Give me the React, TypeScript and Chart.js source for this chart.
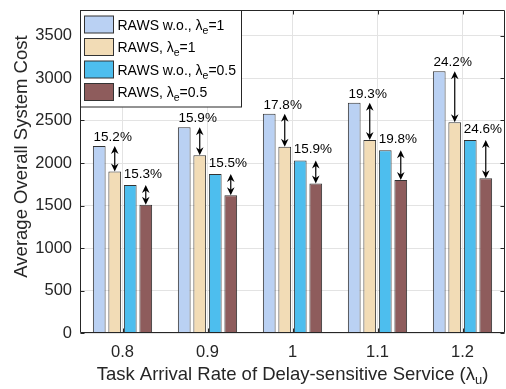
import React, { useEffect, useRef } from "react";
import { Chart, registerables } from "chart.js";

Chart.register(...registerables);

const categories = ["0.8", "0.9", "1", "1.1", "1.2"];
const rawsWoE1 = [2200, 2420, 2580, 2710, 3080];
const rawsE1 = [1900, 2090, 2190, 2270, 2480];
const rawsWoE05 = [1740, 1870, 2030, 2150, 2270];
const rawsE05 = [1510, 1620, 1760, 1800, 1820];
const gainE1 = ["15.2%", "15.9%", "17.8%", "19.3%", "24.2%"];
const gainE05 = ["15.3%", "15.5%", "15.9%", "19.8%", "24.6%"];
const yTicks = [0, 500, 1000, 1500, 2000, 2500, 3000, 3500];

const legendItems = [
  { pre: "RAWS w.o., ", sub: "e", post: "=1" },
  { pre: "RAWS, ", sub: "e", post: "=1" },
  { pre: "RAWS w.o., ", sub: "e", post: "=0.5" },
  { pre: "RAWS, ", sub: "e", post: "=0.5" },
];
const colors = ["#bad1f3", "#f2dcb6", "#4dbeee", "#8e5c5c"];
const FONT = "'Liberation Sans', Arial, Helvetica, sans-serif";
const TXT = "#262626";

function arrowHead(ctx: CanvasRenderingContext2D, x: number, y: number, dir: number) {
  const L = 8, W = 3.8, B = 5.5;
  ctx.beginPath();
  ctx.moveTo(x, y);
  ctx.lineTo(x - W, y - dir * L);
  ctx.lineTo(x, y - dir * B);
  ctx.lineTo(x + W, y - dir * L);
  ctx.closePath();
  ctx.fill();
}

function drawArrow(ctx: CanvasRenderingContext2D, x: number, yTop: number, yBot: number) {
  ctx.strokeStyle = "#000";
  ctx.fillStyle = "#000";
  ctx.lineWidth = 1.2;
  ctx.beginPath();
  ctx.moveTo(x, yTop + 4);
  ctx.lineTo(x, yBot - 4);
  ctx.stroke();
  arrowHead(ctx, x, yTop, -1);
  arrowHead(ctx, x, yBot, 1);
}

const overlayPlugin = {
  id: "overlay",
  afterDatasetsDraw(chart: any) {
    const ctx: CanvasRenderingContext2D = chart.ctx;
    const ca = chart.chartArea;
    const m0 = chart.getDatasetMeta(0).data;
    const m1 = chart.getDatasetMeta(1).data;
    const m2 = chart.getDatasetMeta(2).data;
    const m3 = chart.getDatasetMeta(3).data;
    ctx.save();
    ctx.font = `13.5px ${FONT}`;
    ctx.textAlign = "center";
    ctx.textBaseline = "alphabetic";
    for (let i = 0; i < categories.length; i++) {
      const x1 = m1[i].x;
      drawArrow(ctx, x1, m0[i].y, m1[i].y);
      ctx.fillStyle = "#000";
      ctx.fillText(gainE1[i], x1 - 2, m0[i].y - 5);
      const x3 = m3[i].x;
      drawArrow(ctx, x3, m2[i].y, m3[i].y);
      ctx.fillStyle = "#000";
      ctx.fillText(gainE05[i], x3 - 3, m2[i].y - 7);
    }
    ctx.strokeStyle = TXT;
    ctx.lineWidth = 1;
    const L = Math.round(ca.left) + 0.5, R = Math.round(ca.right) - 0.5;
    const T = Math.round(ca.top) + 0.5, Bm = Math.round(ca.bottom) - 0.5;
    ctx.beginPath();
    ctx.moveTo(L, T); ctx.lineTo(R, T); ctx.lineTo(R, Bm); ctx.lineTo(L, Bm); ctx.closePath();
    ctx.stroke();
    const ys = chart.scales.y;
    const xs = chart.scales.x;
    ctx.beginPath();
    for (const v of yTicks) {
      const y = Math.round(ys.getPixelForValue(v)) + 0.5;
      ctx.moveTo(L, y); ctx.lineTo(L + 4, y);
      ctx.moveTo(R, y); ctx.lineTo(R - 4, y);
    }
    for (let i = 0; i < categories.length; i++) {
      const x = Math.round(xs.getPixelForValue(i)) + 0.5;
      ctx.moveTo(x, Bm); ctx.lineTo(x, Bm - 4);
      ctx.moveTo(x, T); ctx.lineTo(x, T + 4);
    }
    ctx.stroke();

    // legend
    const lx = L, ly = T, lw = 161, lh = 96.5;
    ctx.fillStyle = "#fff";
    ctx.fillRect(lx, ly, lw, lh);
    ctx.strokeStyle = TXT;
    ctx.strokeRect(lx, ly, lw, lh);
    const rowY = [24.5, 47, 69.5, 92];
    legendItems.forEach((it, k) => {
      const cy = rowY[k];
      ctx.fillStyle = colors[k];
      ctx.fillRect(84.5, cy - 8.5, 29, 17);
      ctx.strokeStyle = "#333";
      ctx.strokeRect(84.5, cy - 8.5, 29, 17);
      ctx.fillStyle = "#000";
      ctx.textAlign = "left";
      ctx.font = `14px ${FONT}`;
      let x = 117.5;
      const base = cy + 5;
      ctx.fillText(it.pre, x, base);
      x += ctx.measureText(it.pre).width;
      ctx.fillText("\u03bb", x, base);
      x += ctx.measureText("\u03bb").width;
      ctx.font = `10.5px ${FONT}`;
      ctx.fillText(it.sub, x, base + 4);
      x += ctx.measureText(it.sub).width;
      ctx.font = `14px ${FONT}`;
      ctx.fillText(it.post, x, base);
    });

    // axis titles
    ctx.fillStyle = TXT;
    ctx.font = `18.5px ${FONT}`;
    ctx.textAlign = "center";
    ctx.save();
    ctx.translate(27, 156.5);
    ctx.rotate(-Math.PI / 2);
    ctx.fillText("Average Overall System Cost", 0, 0);
    ctx.restore();

    const pre = "Task Arrival Rate of Delay-sensitive Service (\u03bb";
    ctx.font = `18.5px ${FONT}`;
    const wPre = ctx.measureText(pre).width;
    ctx.font = `13px ${FONT}`;
    const wSub = ctx.measureText("u").width;
    ctx.font = `18.5px ${FONT}`;
    const wEnd = ctx.measureText(")").width;
    let x = (ca.left + ca.right) / 2 - (wPre + wSub + wEnd) / 2;
    const base = 380;
    ctx.textAlign = "left";
    ctx.fillText(pre, x, base);
    x += wPre;
    ctx.font = `13px ${FONT}`;
    ctx.fillText("u", x, base + 4);
    x += wSub;
    ctx.font = `18.5px ${FONT}`;
    ctx.fillText(")", x, base);
    ctx.restore();
  },
};

export default function App() {
  const ref = useRef<HTMLCanvasElement | null>(null);
  useEffect(() => {
    if (!ref.current) return;
    const series = [rawsWoE1, rawsE1, rawsWoE05, rawsE05];
    const chart = new Chart(ref.current, {
      type: "bar",
      data: {
        labels: categories,
        datasets: series.map((d, k) => ({
          label: legendItems[k].pre + "\u03bb" + legendItems[k].sub + legendItems[k].post,
          data: d,
          backgroundColor: colors[k],
          borderColor: "#333",
          borderWidth: 1,
          categoryPercentage: 0.73,
          barPercentage: 0.82,
        })),
      },
      options: {
        responsive: false,
        animation: false,
        layout: { padding: { left: 0, top: 10, right: 1, bottom: 0 } },
        plugins: { legend: { display: false }, tooltip: { enabled: false } },
        scales: {
          x: {
            grid: { color: "#e3e3e3", drawTicks: false, offset: false },
            border: { display: false },
            ticks: { color: TXT, font: { size: 16.5, family: FONT }, padding: 10 },
            afterFit: (s: any) => { s.height = 56; s.paddingLeft = 0; s.paddingRight = 0; },
          },
          y: {
            min: 0,
            max: 3800,
            grid: { color: "#e3e3e3", drawTicks: false },
            border: { display: false },
            afterBuildTicks: (s: any) => { s.ticks = yTicks.map((v) => ({ value: v })); },
            ticks: {
              color: TXT,
              font: { size: 16.5, family: FONT },
              padding: 8,
              callback: (v: any) => String(v),
            },
            afterFit: (s: any) => { s.width = 80; s.paddingTop = 0; s.paddingBottom = 0; },
          },
        },
      },
      plugins: [overlayPlugin],
    });
    return () => chart.destroy();
  }, []);
  return (
    <div style={{ position: "absolute", left: 0, top: 0, width: 506, height: 389, background: "#fff" }}>
      <canvas ref={ref} width={506} height={389} />
    </div>
  );
}
